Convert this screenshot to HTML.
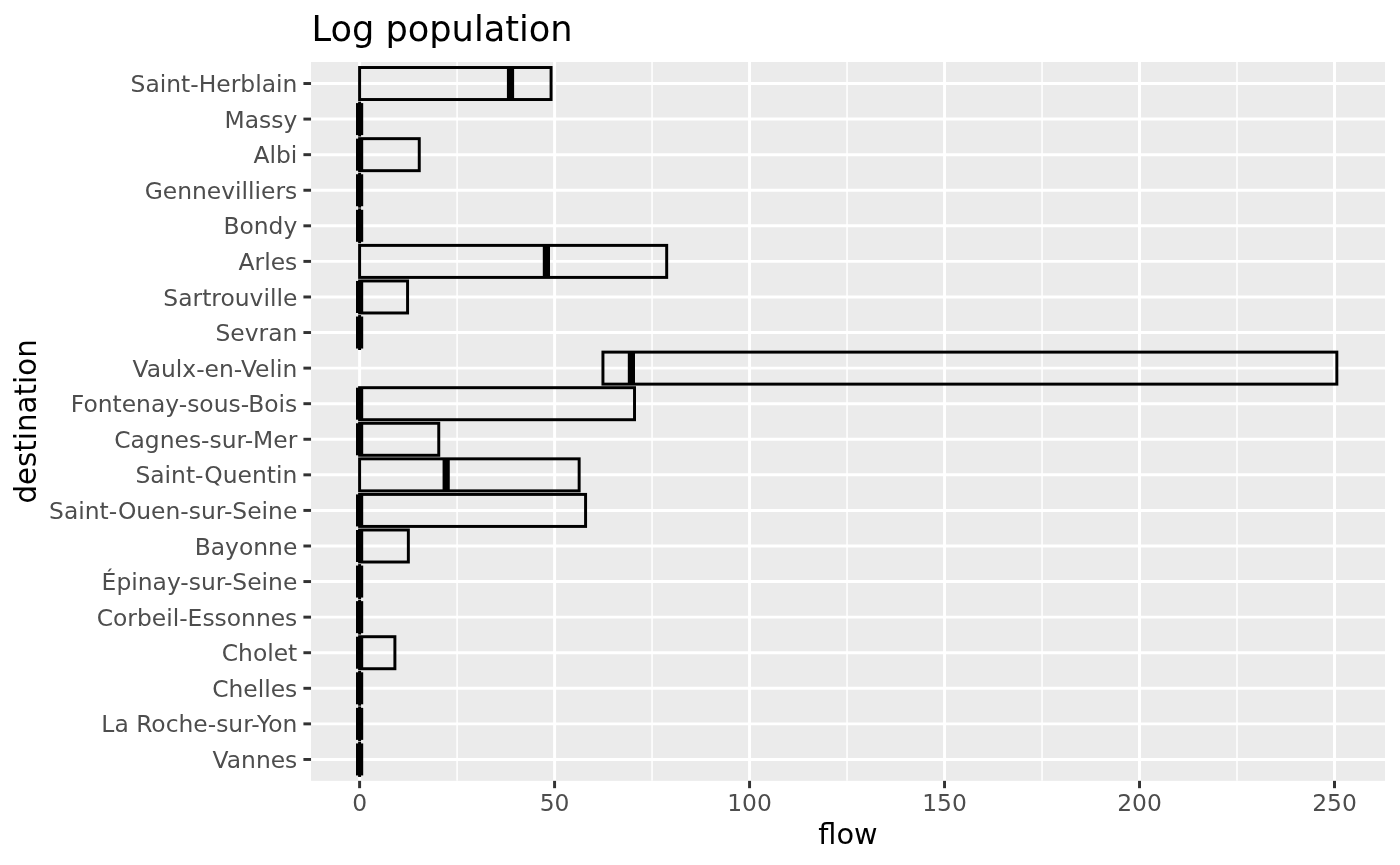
<!DOCTYPE html>
<html lang="en"><head><meta charset="utf-8"><title>Log population</title>
<style>
html,body{margin:0;padding:0;background:#fff;}
body{width:1400px;height:865px;overflow:hidden;}
svg{display:block;}
text{font-family:"DejaVu Sans","Liberation Sans",sans-serif;}
.ax{font-size:23.4px;fill:#4d4d4d;}
.at{font-size:29.33px;fill:#000;}
.tt{font-size:35.2px;fill:#000;}
</style></head><body>
<svg width="1400" height="865" viewBox="0 0 1400 865">
<rect x="0" y="0" width="1400" height="865" fill="#ffffff"/>
<rect x="311.05" y="62.0" width="1073.95" height="718.85" fill="#ebebeb"/>

<g stroke="#ffffff" stroke-width="1.480" fill="none">
<line x1="457.09" x2="457.09" y1="62.0" y2="780.85"/>
<line x1="652.07" x2="652.07" y1="62.0" y2="780.85"/>
<line x1="847.05" x2="847.05" y1="62.0" y2="780.85"/>
<line x1="1042.03" x2="1042.03" y1="62.0" y2="780.85"/>
<line x1="1237.01" x2="1237.01" y1="62.0" y2="780.85"/>
</g>
<g stroke="#ffffff" stroke-width="2.96" fill="none">
<line x1="359.60" x2="359.60" y1="62.0" y2="780.85"/>
<line x1="554.58" x2="554.58" y1="62.0" y2="780.85"/>
<line x1="749.56" x2="749.56" y1="62.0" y2="780.85"/>
<line x1="944.54" x2="944.54" y1="62.0" y2="780.85"/>
<line x1="1139.52" x2="1139.52" y1="62.0" y2="780.85"/>
<line x1="1334.50" x2="1334.50" y1="62.0" y2="780.85"/>
<line x1="311.05" x2="1385.0" y1="83.52" y2="83.52"/>
<line x1="311.05" x2="1385.0" y1="119.09" y2="119.09"/>
<line x1="311.05" x2="1385.0" y1="154.67" y2="154.67"/>
<line x1="311.05" x2="1385.0" y1="190.25" y2="190.25"/>
<line x1="311.05" x2="1385.0" y1="225.82" y2="225.82"/>
<line x1="311.05" x2="1385.0" y1="261.39" y2="261.39"/>
<line x1="311.05" x2="1385.0" y1="296.97" y2="296.97"/>
<line x1="311.05" x2="1385.0" y1="332.55" y2="332.55"/>
<line x1="311.05" x2="1385.0" y1="368.12" y2="368.12"/>
<line x1="311.05" x2="1385.0" y1="403.69" y2="403.69"/>
<line x1="311.05" x2="1385.0" y1="439.27" y2="439.27"/>
<line x1="311.05" x2="1385.0" y1="474.85" y2="474.85"/>
<line x1="311.05" x2="1385.0" y1="510.42" y2="510.42"/>
<line x1="311.05" x2="1385.0" y1="546.00" y2="546.00"/>
<line x1="311.05" x2="1385.0" y1="581.57" y2="581.57"/>
<line x1="311.05" x2="1385.0" y1="617.14" y2="617.14"/>
<line x1="311.05" x2="1385.0" y1="652.72" y2="652.72"/>
<line x1="311.05" x2="1385.0" y1="688.30" y2="688.30"/>
<line x1="311.05" x2="1385.0" y1="723.87" y2="723.87"/>
<line x1="311.05" x2="1385.0" y1="759.45" y2="759.45"/>
</g>
<g stroke="#000000" fill="none" stroke-linejoin="miter">
<rect x="359.60" y="67.51" width="191.47" height="32.02" stroke-width="2.96"/>
<line x1="510.51" x2="510.51" y1="67.51" y2="99.53" stroke-width="7.2"/>
<line x1="359.60" x2="359.60" y1="101.61" y2="136.58" stroke-width="2.96"/>
<line x1="359.60" x2="359.60" y1="103.09" y2="135.10" stroke-width="7.2"/>
<rect x="359.60" y="138.66" width="59.66" height="32.02" stroke-width="2.96"/>
<line x1="359.60" x2="359.60" y1="138.66" y2="170.68" stroke-width="7.2"/>
<line x1="359.60" x2="359.60" y1="172.76" y2="207.73" stroke-width="2.96"/>
<line x1="359.60" x2="359.60" y1="174.24" y2="206.25" stroke-width="7.2"/>
<line x1="359.60" x2="359.60" y1="208.33" y2="243.31" stroke-width="2.96"/>
<line x1="359.60" x2="359.60" y1="209.81" y2="241.83" stroke-width="7.2"/>
<rect x="359.60" y="245.39" width="307.09" height="32.02" stroke-width="2.96"/>
<line x1="546.39" x2="546.39" y1="245.39" y2="277.40" stroke-width="7.2"/>
<rect x="359.60" y="280.96" width="47.97" height="32.02" stroke-width="2.96"/>
<line x1="359.60" x2="359.60" y1="280.96" y2="312.98" stroke-width="7.2"/>
<line x1="359.60" x2="359.60" y1="315.06" y2="350.03" stroke-width="2.96"/>
<line x1="359.60" x2="359.60" y1="316.54" y2="348.55" stroke-width="7.2"/>
<rect x="602.94" y="352.11" width="733.90" height="32.02" stroke-width="2.96"/>
<line x1="631.40" x2="631.40" y1="352.11" y2="384.13" stroke-width="7.2"/>
<rect x="359.60" y="387.69" width="274.92" height="32.02" stroke-width="2.96"/>
<line x1="359.60" x2="359.60" y1="387.69" y2="419.70" stroke-width="7.2"/>
<rect x="359.60" y="423.26" width="79.16" height="32.02" stroke-width="2.96"/>
<line x1="359.60" x2="359.60" y1="423.26" y2="455.28" stroke-width="7.2"/>
<rect x="359.60" y="458.84" width="219.55" height="32.02" stroke-width="2.96"/>
<line x1="446.17" x2="446.17" y1="458.84" y2="490.85" stroke-width="7.2"/>
<rect x="359.60" y="494.41" width="225.98" height="32.02" stroke-width="2.96"/>
<line x1="359.60" x2="359.60" y1="494.41" y2="526.43" stroke-width="7.2"/>
<rect x="359.60" y="529.99" width="48.75" height="32.02" stroke-width="2.96"/>
<line x1="359.60" x2="359.60" y1="529.99" y2="562.00" stroke-width="7.2"/>
<line x1="359.60" x2="359.60" y1="564.08" y2="599.06" stroke-width="2.96"/>
<line x1="359.60" x2="359.60" y1="565.56" y2="597.58" stroke-width="7.2"/>
<line x1="359.60" x2="359.60" y1="599.66" y2="634.63" stroke-width="2.96"/>
<line x1="359.60" x2="359.60" y1="601.14" y2="633.15" stroke-width="7.2"/>
<rect x="359.60" y="636.71" width="35.29" height="32.02" stroke-width="2.96"/>
<line x1="359.60" x2="359.60" y1="636.71" y2="668.73" stroke-width="7.2"/>
<line x1="359.60" x2="359.60" y1="670.81" y2="705.78" stroke-width="2.96"/>
<line x1="359.60" x2="359.60" y1="672.29" y2="704.30" stroke-width="7.2"/>
<line x1="359.60" x2="359.60" y1="706.38" y2="741.36" stroke-width="2.96"/>
<line x1="359.60" x2="359.60" y1="707.86" y2="739.88" stroke-width="7.2"/>
<line x1="359.60" x2="359.60" y1="741.96" y2="776.93" stroke-width="2.96"/>
<line x1="359.60" x2="359.60" y1="743.44" y2="775.45" stroke-width="7.2"/>
</g>
<g stroke="#333333" stroke-width="2.96" fill="none">
<line x1="303.41" x2="311.05" y1="83.52" y2="83.52"/>
<line x1="303.41" x2="311.05" y1="119.09" y2="119.09"/>
<line x1="303.41" x2="311.05" y1="154.67" y2="154.67"/>
<line x1="303.41" x2="311.05" y1="190.25" y2="190.25"/>
<line x1="303.41" x2="311.05" y1="225.82" y2="225.82"/>
<line x1="303.41" x2="311.05" y1="261.39" y2="261.39"/>
<line x1="303.41" x2="311.05" y1="296.97" y2="296.97"/>
<line x1="303.41" x2="311.05" y1="332.55" y2="332.55"/>
<line x1="303.41" x2="311.05" y1="368.12" y2="368.12"/>
<line x1="303.41" x2="311.05" y1="403.69" y2="403.69"/>
<line x1="303.41" x2="311.05" y1="439.27" y2="439.27"/>
<line x1="303.41" x2="311.05" y1="474.85" y2="474.85"/>
<line x1="303.41" x2="311.05" y1="510.42" y2="510.42"/>
<line x1="303.41" x2="311.05" y1="546.00" y2="546.00"/>
<line x1="303.41" x2="311.05" y1="581.57" y2="581.57"/>
<line x1="303.41" x2="311.05" y1="617.14" y2="617.14"/>
<line x1="303.41" x2="311.05" y1="652.72" y2="652.72"/>
<line x1="303.41" x2="311.05" y1="688.30" y2="688.30"/>
<line x1="303.41" x2="311.05" y1="723.87" y2="723.87"/>
<line x1="303.41" x2="311.05" y1="759.45" y2="759.45"/>
<line x1="359.60" x2="359.60" y1="780.85" y2="788.18"/>
<line x1="554.58" x2="554.58" y1="780.85" y2="788.18"/>
<line x1="749.56" x2="749.56" y1="780.85" y2="788.18"/>
<line x1="944.54" x2="944.54" y1="780.85" y2="788.18"/>
<line x1="1139.52" x2="1139.52" y1="780.85" y2="788.18"/>
<line x1="1334.50" x2="1334.50" y1="780.85" y2="788.18"/>
</g>
<g class="ax" text-anchor="end">
<text x="297.30" y="92">Saint-Herblain</text>
<text x="297.30" y="128">Massy</text>
<text x="297.30" y="163">Albi</text>
<text x="297.30" y="199">Gennevilliers</text>
<text x="297.30" y="234">Bondy</text>
<text x="297.30" y="270">Arles</text>
<text x="297.30" y="306">Sartrouville</text>
<text x="297.30" y="341">Sevran</text>
<text x="297.30" y="377">Vaulx-en-Velin</text>
<text x="297.30" y="412">Fontenay-sous-Bois</text>
<text x="297.30" y="448">Cagnes-sur-Mer</text>
<text x="297.30" y="483">Saint-Quentin</text>
<text x="297.30" y="519">Saint-Ouen-sur-Seine</text>
<text x="297.30" y="555">Bayonne</text>
<text x="297.30" y="590">Épinay-sur-Seine</text>
<text x="297.30" y="626">Corbeil-Essonnes</text>
<text x="297.30" y="661">Cholet</text>
<text x="297.30" y="697">Chelles</text>
<text x="297.30" y="732">La Roche-sur-Yon</text>
<text x="297.30" y="768">Vannes</text>
</g>
<g class="ax" text-anchor="middle">
<text x="359.60" y="811">0</text>
<text x="554.58" y="811">50</text>
<text x="749.56" y="811">100</text>
<text x="944.54" y="811">150</text>
<text x="1139.52" y="811">200</text>
<text x="1334.50" y="811">250</text>
</g>
<text class="at" style="font-size:28.8px" text-anchor="middle" x="847.92" y="844">flow</text>
<text class="at" text-anchor="middle" transform="translate(36,421.43) rotate(-90)">destination</text>
<text class="tt" x="311.4" y="41">Log population</text>
</svg>
</body></html>
